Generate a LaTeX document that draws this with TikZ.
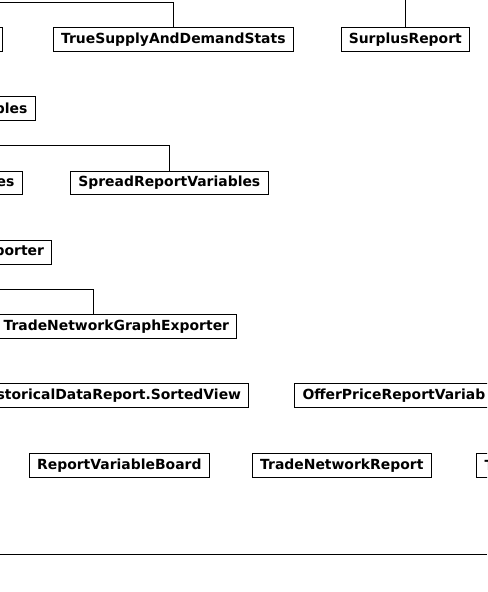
\documentclass[tikz,border=0pt]{standalone}
\usepackage{fontspec}
\setsansfont{DejaVu Sans}
\tikzset{every picture/.style={line width=0.75pt}}
\tikzset{
  cls/.style={draw, font=\sffamily\bfseries\fontsize{10.45}{12}\selectfont, minimum height=17.8pt, inner xsep=5.8pt, inner ysep=0pt},
  clsleft/.style={cls, anchor=east, text width=240pt, align=right},
  clsright/.style={cls, anchor=west, text width=240pt, align=left}
}

\begin{document}
\begin{tikzpicture}[x=0.75pt,y=0.75pt,yscale=-1,xscale=1]
		\useasboundingbox (0,0) rectangle (487,592);
		\clip (0,0) rectangle (487,592);
		% Row 1
		\node [clsleft] (statsbase) at (3.3,39.7) {};
		\node [cls] (supply) at (173.3,39.7) {TrueSupplyAndDemandStats};
		\node [cls] (surplus) at (405.3,39.7) {SurplusReport};
		% Row 2
		\node [clsleft] (vars) at (35.7,108.3) {bles};
		% Row 3
		\node [clsleft] (varsb) at (22.7,183) {es};
		\node [cls] (spread) at (169.3,183) {SpreadReportVariables};
		% Row 4
		\node [clsleft] (exporter) at (52.3,252.2) {porter};
		% Row 5
		\node [clsleft] (graphexp) at (237.3,326.2) {TradeNetworkGraphExporter};
		% Row 6
		\node [clsleft] (sorted) at (249.3,395.7) {storicalDataReport.SortedView};
		\node [clsright] (offer) at (294.3,395.7) {OfferPriceReportVariab};
		% Row 7
		\node [cls] (board) at (119.3,465.3) {ReportVariableBoard};
		\node [cls] (netreport) at (341.8,465.3) {TradeNetworkReport};
		\node [clsright] (nextcls) at (476.3,465.3) {T};
		% Connectors
		\coordinate (supplyin) at (0,2.7);
		\coordinate (surplusin) at (405.3,0);
		\coordinate (spreadin) at (0,145);
		\coordinate (graphin) at (0,289.3);
		\coordinate (graphtop) at (93.3,314);
		\draw (supplyin) -| (supply.north);
		\draw (surplusin) -- (surplus.north);
		\draw (spreadin) -| (spread.north);
		\draw (graphin) -| (graphtop);
		% Bottom rule
		\coordinate (rulel) at (0,554.3);
		\coordinate (ruler) at (487,554.3);
		\draw (rulel) -- (ruler);
\end{tikzpicture}
\end{document}
